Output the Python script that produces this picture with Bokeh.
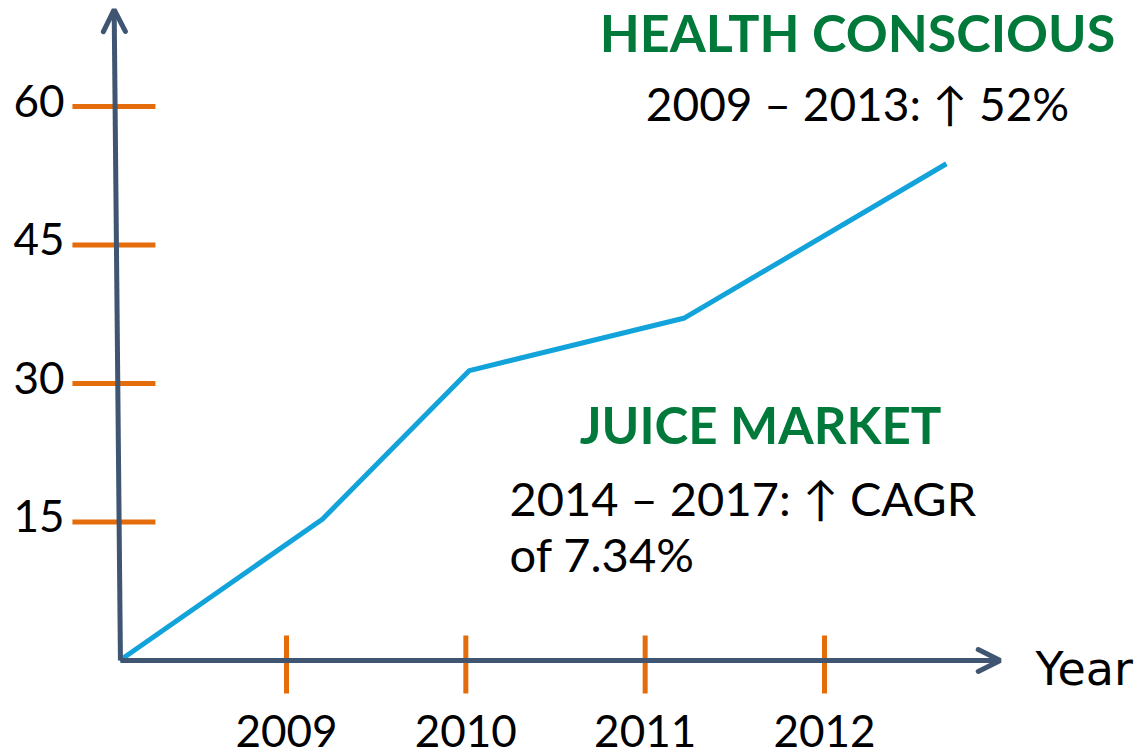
from bokeh.plotting import figure
from bokeh.models import Arrow, OpenHead, Label, Range1d
from bokeh.core.properties import value
from bokeh.embed import file_html
from bokeh.resources import INLINE

# ---- data ----
years = [2009, 2010, 2011, 2012]
year_labels = ["2009", "2010", "2011", "2012"]
y_ticks = [15, 30, 45, 60]
y_tick_labels = ["15", "30", "45", "60"]
line_x = [2008.07, 2009.2, 2010.02, 2011.22, 2012.68]
line_y = [0, 15.3, 31.4, 37.1, 53.8]

# ---- layout / style ----
W, H = 1147, 755
X_ORIGIN = 2008.074
X_END = 2012.98
Y_END = 70.5
PX = 179.33   # pixels per year
PY = 9.233    # pixels per unit
AXIS_C = "#3F5571"
TICK_C = "#E46C0A"
LINE_C = "#12A3DA"
GREEN = "#00793A"
FONT = "Lato"

p = figure(width=W, height=H,
           x_range=Range1d(2007.4052, 2013.8012),
           y_range=Range1d(-10.289, 71.483),
           x_axis_type=None, y_axis_type=None,
           output_backend="svg", toolbar_location=None, min_border=0)
p.grid.visible = False
p.outline_line_color = None

# orange tick marks
p.segment(x0=[X_ORIGIN - 48 / PX] * len(y_ticks), x1=[X_ORIGIN + 35 / PX] * len(y_ticks),
          y0=y_ticks, y1=y_ticks, line_color=TICK_C, line_width=5)
p.segment(x0=years, x1=years, y0=[-33 / PY] * len(years), y1=[25 / PY] * len(years),
          line_color=TICK_C, line_width=5)

# axes with arrow heads
p.add_layout(Arrow(end=OpenHead(size=22, line_color=AXIS_C, line_width=5, line_cap="round"),
                   x_start=X_ORIGIN, y_start=0, x_end=X_END, y_end=0,
                   line_color=AXIS_C, line_width=5))
p.add_layout(Arrow(end=OpenHead(size=22, line_color=AXIS_C, line_width=5, line_cap="round"),
                   x_start=X_ORIGIN, y_start=0, x_end=X_ORIGIN - 0.035, y_end=Y_END,
                   line_color=AXIS_C, line_width=5))

# data line
p.line(line_x, line_y, line_color=LINE_C, line_width=5)

# tick labels
p.text(x=[X_ORIGIN] * len(y_ticks), y=y_ticks, text=y_tick_labels, x_offset=-56, y_offset=-6,
       text_align="right", text_baseline="alphabetic", text_font=value(FONT),
       text_font_size="44px", text_color="black")
p.text(x=years, y=[0] * len(years), text=year_labels, y_offset=70,
       text_align="center", text_baseline="alphabetic", text_font=value(FONT),
       text_font_size="44px", text_color="black")

def lab(x, y, t, size, color="black", bold=False, align="left", font=FONT):
    p.add_layout(Label(x=x, y=y, x_units="screen", y_units="screen", text=t,
                       text_font=font, text_font_size=size, text_color=color,
                       text_font_style="bold" if bold else "normal",
                       text_align=align, text_baseline="alphabetic"))

lab(1035, 87, "Year", "46px", font="DejaVu Sans")
lab(857, 724, "HEALTH CONSCIOUS", "52px", GREEN, True, "center")
lab(857, 652, "2009 \u2013 2013: \u2191 52%", "46px", "black", False, "center")
lab(760, 331, "JUICE MARKET", "51px", GREEN, True, "center")
lab(509, 258, "2014 \u2013 2017: \u2191 CAGR", "47px")
lab(509, 202, "of 7.34%", "47px")

open("out.html", "w").write(file_html(p, INLINE))
